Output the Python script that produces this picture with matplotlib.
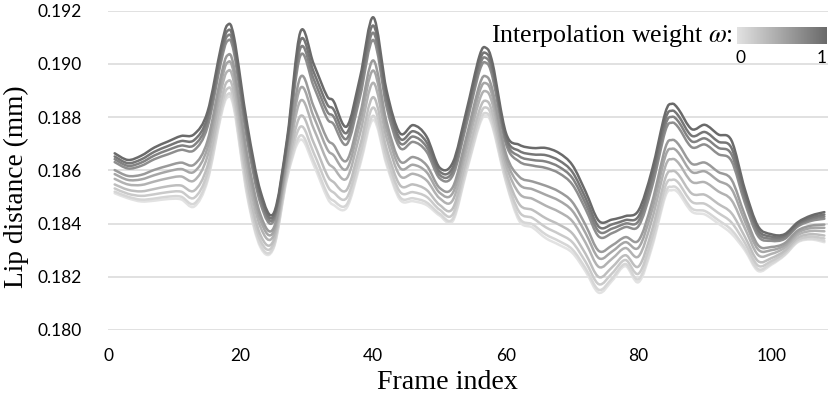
import numpy as np
import matplotlib
matplotlib.use('Agg')
import matplotlib.pyplot as plt
from matplotlib.path import Path
from matplotlib.patches import PathPatch
from matplotlib.colors import LinearSegmentedColormap

# lip distance per frame, one list per interpolation weight (values in micrometres)
frames = [1, 3, 5, 7, 9, 11, 13, 15, 17, 18, 19, 21, 23, 25, 27, 29, 31, 33,
          34, 36, 38, 40, 42, 44, 46, 48, 50, 52, 54, 56, 57, 58, 60, 62, 64,
          66, 68, 70, 72, 74, 76, 78, 80, 82, 84, 85, 86, 88, 90, 92, 94, 96,
          98, 100, 102, 104, 106, 108]
weights = [0.0, 0.1, 0.2, 0.3, 0.4, 0.5, 0.6, 0.7, 0.8, 0.9, 1.0]

w00 = [185.14, 184.95, 184.83, 184.86, 184.92, 184.91, 184.64, 185.60, 188.00, 188.74, 188.30,
       185.00, 183.10, 183.10, 185.70, 187.15, 186.20, 185.00, 184.70, 184.60, 186.20, 187.90,
       186.20, 184.90, 184.84, 184.70, 184.30, 184.10, 185.90, 187.70, 188.05, 187.60, 185.55,
       184.10, 183.85, 183.45, 183.20, 182.90, 182.20, 181.40, 181.85, 182.40, 181.80, 183.10,
       185.00, 185.25, 185.15, 184.45, 184.34, 184.00, 183.62, 183.00, 182.22, 182.45, 182.80,
       183.30, 183.40, 183.30]
w01 = [185.20, 185.01, 184.90, 184.94, 185.01, 185.01, 184.75, 185.70, 188.10, 188.85, 188.41,
       185.11, 183.18, 183.15, 185.76, 187.31, 186.35, 185.15, 184.86, 184.72, 186.33, 188.05,
       186.31, 185.00, 184.95, 184.80, 184.37, 184.19, 185.99, 187.80, 188.15, 187.70, 185.62,
       184.21, 183.97, 183.59, 183.34, 183.03, 182.32, 181.51, 181.94, 182.48, 181.91, 183.22,
       185.13, 185.38, 185.28, 184.57, 184.47, 184.13, 183.76, 183.09, 182.29, 182.50, 182.83,
       183.33, 183.44, 183.35]
w02 = [185.32, 185.12, 185.04, 185.10, 185.18, 185.20, 184.97, 185.91, 188.31, 189.07, 188.62,
       185.32, 183.35, 183.26, 185.88, 187.64, 186.66, 185.46, 185.17, 184.97, 186.60, 188.36,
       186.54, 185.20, 185.18, 185.01, 184.52, 184.36, 186.18, 188.01, 188.36, 187.89, 185.77,
       184.44, 184.21, 183.86, 183.61, 183.30, 182.56, 181.72, 182.13, 182.63, 182.12, 183.45,
       185.38, 185.64, 185.53, 184.82, 184.74, 184.40, 184.04, 183.28, 182.42, 182.59, 182.90,
       183.39, 183.51, 183.44]
w03 = [185.47, 185.27, 185.21, 185.30, 185.40, 185.43, 185.24, 186.17, 188.57, 189.34, 188.89,
       185.59, 183.56, 183.39, 186.03, 188.04, 187.04, 185.84, 185.56, 185.27, 186.93, 188.75,
       186.82, 185.45, 185.47, 185.27, 184.70, 184.58, 186.41, 188.27, 188.61, 188.13, 185.96,
       184.73, 184.51, 184.20, 183.96, 183.63, 182.86, 181.99, 182.36, 182.81, 182.39, 183.74,
       185.69, 185.97, 185.84, 185.13, 185.08, 184.74, 184.39, 183.51, 182.59, 182.70, 182.98,
       183.47, 183.60, 183.55]
w04 = [185.68, 185.47, 185.45, 185.58, 185.70, 185.77, 185.62, 186.54, 188.94, 189.72, 189.27,
       185.97, 183.86, 183.57, 186.24, 188.61, 187.57, 186.37, 186.10, 185.70, 187.39, 189.29,
       187.21, 185.80, 185.87, 185.63, 184.95, 184.89, 186.73, 188.64, 188.97, 188.46, 186.22,
       185.13, 184.93, 184.67, 184.44, 184.09, 183.28, 182.37, 182.68, 183.08, 182.77, 184.14,
       186.13, 186.42, 186.28, 185.57, 185.55, 185.21, 184.88, 183.83, 182.82, 182.86, 183.09,
       183.57, 183.72, 183.71]
w05 = [185.86, 185.64, 185.66, 185.82, 185.96, 186.05, 185.95, 186.85, 189.25, 190.05, 189.60,
       186.30, 184.11, 183.72, 186.42, 189.09, 188.02, 186.82, 186.57, 186.06, 187.78, 189.75,
       187.54, 186.10, 186.21, 185.94, 185.16, 185.16, 187.00, 188.95, 189.27, 188.75, 186.44,
       185.47, 185.29, 185.08, 184.86, 184.48, 183.64, 182.70, 182.95, 183.30, 183.10, 184.49,
       186.51, 186.81, 186.66, 185.94, 185.96, 185.61, 185.30, 184.10, 183.03, 183.00, 183.18,
       183.66, 183.83, 183.84]
w06 = [186.01, 185.79, 185.83, 186.02, 186.17, 186.29, 186.22, 187.11, 189.51, 190.32, 189.87,
       186.57, 184.32, 183.85, 186.57, 189.50, 188.40, 187.20, 186.96, 186.37, 188.11, 190.13,
       187.82, 186.35, 186.50, 186.20, 185.34, 185.38, 187.23, 189.21, 189.53, 188.99, 186.62,
       185.76, 185.58, 185.42, 185.20, 184.81, 183.94, 182.97, 183.18, 183.49, 183.37, 184.78,
       186.83, 187.14, 186.98, 186.25, 186.29, 185.94, 185.65, 184.33, 183.19, 183.12, 183.26,
       183.74, 183.92, 183.96]
w07 = [186.31, 186.07, 186.17, 186.42, 186.60, 186.77, 186.76, 187.63, 190.03, 190.86, 190.41,
       187.11, 184.74, 184.11, 186.87, 190.31, 189.16, 187.96, 187.74, 186.98, 188.77, 190.90,
       188.38, 186.85, 187.07, 186.71, 185.70, 185.82, 187.69, 189.73, 190.04, 189.47, 186.99,
       186.33, 186.18, 186.09, 185.89, 185.47, 184.54, 183.51, 183.64, 183.87, 183.91, 185.36,
       187.46, 187.79, 187.61, 186.87, 186.97, 186.61, 186.35, 184.79, 183.53, 183.35, 183.42,
       183.89, 184.10, 184.18]
w08 = [186.42, 186.17, 186.29, 186.56, 186.76, 186.93, 186.95, 187.81, 190.21, 191.05, 190.60,
       187.30, 184.89, 184.21, 186.98, 190.59, 189.43, 188.23, 188.02, 187.19, 189.01, 191.17,
       188.58, 187.03, 187.27, 186.89, 185.83, 185.97, 187.86, 189.91, 190.22, 189.64, 187.12,
       186.53, 186.39, 186.33, 186.13, 185.71, 184.75, 183.70, 183.81, 184.00, 184.10, 185.57,
       187.68, 188.01, 187.83, 187.09, 187.20, 186.85, 186.60, 184.96, 183.65, 183.43, 183.48,
       183.94, 184.17, 184.26]
w09 = [186.52, 186.27, 186.41, 186.70, 186.91, 187.10, 187.14, 187.99, 190.39, 191.24, 190.78,
       187.48, 185.03, 184.30, 187.08, 190.88, 189.70, 188.50, 188.29, 187.41, 189.24, 191.44,
       188.78, 187.20, 187.47, 187.07, 185.96, 186.12, 188.02, 190.09, 190.40, 189.81, 187.25,
       186.73, 186.60, 186.57, 186.37, 185.94, 184.96, 183.88, 183.97, 184.13, 184.28, 185.77,
       187.90, 188.24, 188.05, 187.30, 187.44, 187.08, 186.84, 185.12, 183.77, 183.51, 183.54,
       183.99, 184.23, 184.34]
w10 = [186.64, 186.39, 186.55, 186.86, 187.08, 187.29, 187.36, 188.20, 190.60, 191.46, 191.00,
       187.70, 185.20, 184.40, 187.20, 191.20, 190.00, 188.80, 188.60, 187.65, 189.50, 191.75,
       189.00, 187.40, 187.70, 187.28, 186.10, 186.30, 188.20, 190.30, 190.60, 190.00, 187.40,
       186.96, 186.84, 186.84, 186.65, 186.20, 185.20, 184.10, 184.15, 184.28, 184.50, 186.00,
       188.15, 188.50, 188.30, 187.55, 187.71, 187.35, 187.12, 185.30, 183.90, 183.60, 183.60,
       184.05, 184.30, 184.43]
series = [w00, w01, w02, w03, w04, w05, w06, w07, w08, w09, w10]

yticks = [0.180, 0.182, 0.184, 0.186, 0.188, 0.190, 0.192]
xticks = [0, 20, 40, 60, 80, 100]


def smooth_path(x, y):
    # smoothed line like the spreadsheet "smooth line" option (Catmull-Rom -> cubic bezier)
    x = np.asarray(x, float)
    y = np.asarray(y, float)
    xp = np.r_[x[0], x, x[-1]]
    yp = np.r_[y[0], y, y[-1]]
    verts = [(x[0], y[0])]
    codes = [Path.MOVETO]
    for i in range(len(x) - 1):
        c1 = (x[i] + (xp[i + 2] - xp[i]) / 6, y[i] + (yp[i + 2] - yp[i]) / 6)
        c2 = (x[i + 1] - (xp[i + 3] - xp[i + 1]) / 6, y[i + 1] - (yp[i + 3] - yp[i + 1]) / 6)
        verts += [c1, c2, (x[i + 1], y[i + 1])]
        codes += [Path.CURVE4] * 3
    return Path(verts, codes)


plt.rcParams['mathtext.fontset'] = 'stix'
tick_font = 'Lato'
serif = 'Liberation Serif'

fig = plt.figure(figsize=(8.31, 3.96), dpi=100)
ax = fig.add_axes([0.130, 0.1667, 0.866, 0.8063])

cmap = LinearSegmentedColormap.from_list('grey_w', ['#e2e2e2', '#6a6a6a'])
for w, vals in zip(weights, series):
    y = np.array(vals) / 1000.0      # micrometres -> mm
    ax.add_patch(PathPatch(smooth_path(frames, y), fill=False, edgecolor=cmap(w),
                           lw=1.8, joinstyle='round', capstyle='round'))

ax.set_xlim(0, 108.5)
ax.set_ylim(0.180, 0.192)
ax.set_yticks(yticks)
ax.set_yticklabels([f'{t:.3f}' for t in yticks], fontsize=12.5, fontfamily=tick_font)
ax.set_xticks(xticks)
ax.set_xticklabels([str(t) for t in xticks], fontsize=12.5, fontfamily=tick_font)
ax.tick_params(axis='both', length=0)
ax.tick_params(axis='y', pad=19)
ax.tick_params(axis='x', pad=13)
ax.grid(axis='y', color='#d9d9d9', lw=1.1)
ax.set_axisbelow(True)
for s in ax.spines.values():
    s.set_visible(False)

fig.text(0.020, 0.528, 'Lip distance (mm)', rotation=90, ha='center', va='center',
         fontsize=19.7, fontfamily=serif)
fig.text(0.5385, 0.035, 'Frame index', ha='center', va='center',
         fontsize=20.2, fontfamily=serif)

# colour bar legend for the interpolation weight
fig.text(0.882, 0.894, r'Interpolation weight $\omega$:', ha='right', va='baseline',
         fontsize=18.6, fontfamily=serif)
cax = fig.add_axes([0.8869, 0.8889, 0.1071, 0.0429])
cax.imshow(np.linspace(0, 1, 256)[None, :], aspect='auto', cmap=cmap)
cax.axis('off')
fig.text(0.8905, 0.8535, '0', ha='center', va='center', fontsize=12.5, fontfamily=tick_font)
fig.text(0.989, 0.8535, '1', ha='center', va='center', fontsize=12.5, fontfamily=tick_font)

fig.savefig('out.png', dpi=100)
